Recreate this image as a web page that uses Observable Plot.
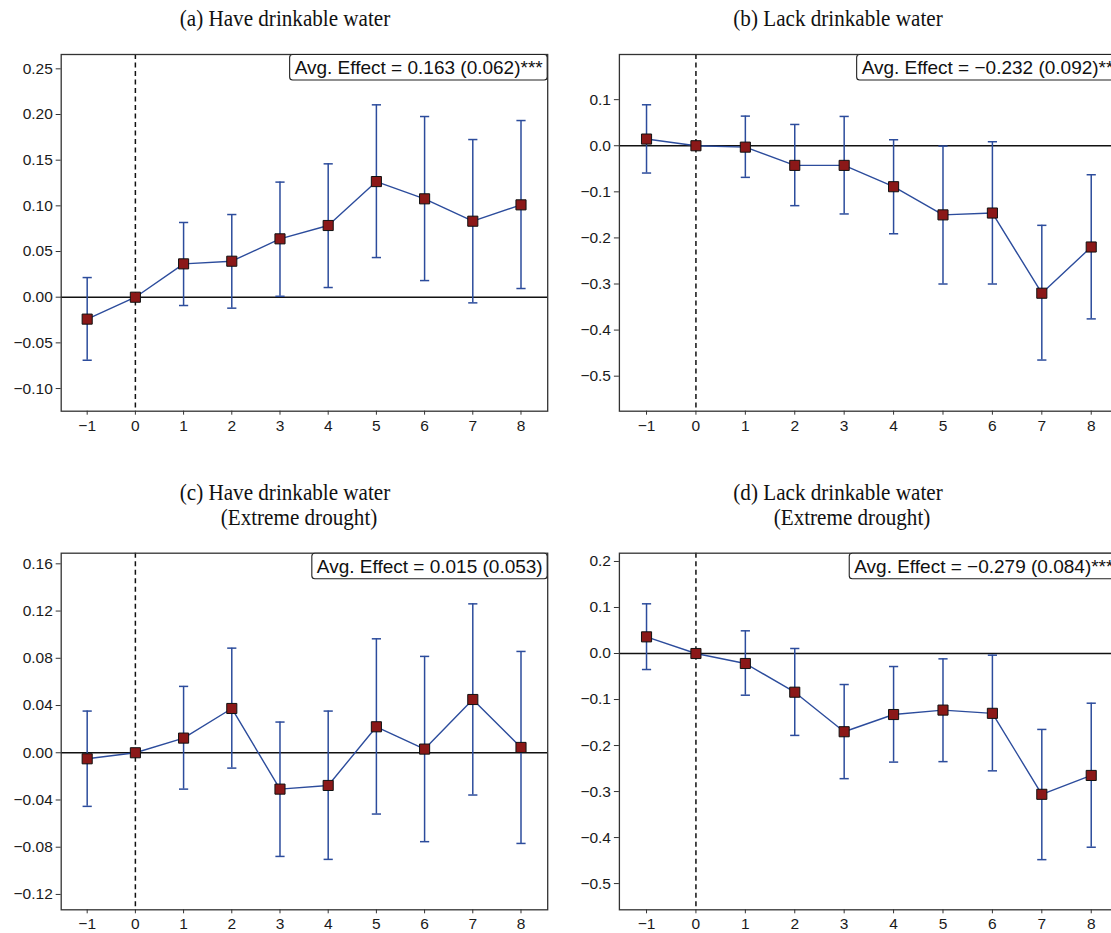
<!DOCTYPE html>
<html>
<head>
<meta charset="utf-8">
<script src="https://cdn.jsdelivr.net/npm/d3@7"></script>
<script src="https://cdn.jsdelivr.net/npm/@observablehq/plot@0.6"></script>
<style>
  html, body { margin: 0; padding: 0; background: #fff; overflow: hidden; }
  #wrap { position: relative; width: 1111px; height: 933px; overflow: hidden; background: #fff; }
  .ttl { position: absolute; font-family: "Liberation Serif", "Times New Roman", serif; font-size: 24px; color: #111; text-align: center; white-space: nowrap; transform: translateX(-50%) scaleX(0.88); line-height: 1; }
  .pnl { position: absolute; }
</style>
</head>
<body>
<div id="wrap"></div>
<script>
// ---- data ----
const periods = [-1, 0, 1, 2, 3, 4, 5, 6, 7, 8];

const aEst = [-0.024, 0, 0.0365, 0.0394, 0.0639, 0.0785, 0.1266, 0.1077, 0.0832, 0.1011];
const aLo  = [-0.069, null, -0.0091, -0.012, 0.001, 0.0106, 0.0434, 0.0182, -0.0062, 0.0095];
const aHi  = [0.0215, null, 0.0818, 0.0905, 0.126, 0.146, 0.2106, 0.1978, 0.1726, 0.1934];

const bEst = [0.0145, 0, -0.003, -0.0426, -0.0426, -0.0889, -0.150, -0.146, -0.320, -0.2197];
const bLo  = [-0.0592, null, -0.0686, -0.130, -0.148, -0.191, -0.300, -0.300, -0.465, -0.3757];
const bHi  = [0.0889, null, 0.0643, 0.0462, 0.0636, 0.013, -0.0007, 0.0087, -0.1727, -0.0629];

const cEst = [-0.0051, 0, 0.0124, 0.0375, -0.0308, -0.0277, 0.022, 0.0031, 0.0451, 0.0045];
const cLo  = [-0.0454, null, -0.0308, -0.013, -0.0878, -0.0903, -0.0519, -0.0753, -0.0358, -0.0768];
const cHi  = [0.0353, null, 0.0562, 0.0886, 0.026, 0.0353, 0.0965, 0.0816, 0.1261, 0.0858];

const dEst = [0.0362, 0, -0.0217, -0.0841, -0.170, -0.1326, -0.123, -0.130, -0.306, -0.265];
const dLo  = [-0.0348, null, -0.0906, -0.178, -0.272, -0.236, -0.235, -0.255, -0.448, -0.421];
const dHi  = [0.108, null, 0.0493, 0.0109, -0.0674, -0.0283, -0.0116, -0.0036, -0.165, -0.108];

const titles = [
  ["(a) Have drinkable water"],
  ["(b) Lack drinkable water"],
  ["(c) Have drinkable water", "(Extreme drought)"],
  ["(d) Lack drinkable water", "(Extreme drought)"]
];
const avgLabels = [
  "Avg. Effect = 0.163 (0.062)***",
  "Avg. Effect = \u22120.232 (0.092)**",
  "Avg. Effect = 0.015 (0.053)",
  "Avg. Effect = \u22120.279 (0.084)***"
];
const yTicksA = [-0.10, -0.05, 0.00, 0.05, 0.10, 0.15, 0.20, 0.25];
const yTicksB = [-0.5, -0.4, -0.3, -0.2, -0.1, 0.0, 0.1];
const yTicksC = [-0.12, -0.08, -0.04, 0.00, 0.04, 0.08, 0.12, 0.16];
const yTicksD = [-0.5, -0.4, -0.3, -0.2, -0.1, 0.0, 0.1, 0.2];

// ---- styling ----
const BLUE = "#2c4c9c";
const RED = "#8b1818";
const SANS = "'Liberation Sans', Arial, sans-serif";
const capSymbol = {
  draw(context, size) {
    const r = Math.sqrt(size / Math.PI);
    context.moveTo(-r, 0);
    context.lineTo(r, 0);
  }
};

function rows(est, lo, hi) {
  return periods.map((t, i) => ({t, est: est[i], lo: lo[i], hi: hi[i]}));
}

const panels = [
  {data: rows(aEst, aLo, aHi), yDomain: [-0.1248, 0.2657], yTicks: yTicksA, fmt: ".2f",
   xDomain: [-1.539, 8.554], left: 0, top: 40, width: 560, height: 400, mL: 60.7, mR: 12.8, mT: 14, mB: 29.3},
  {data: rows(bEst, bLo, bHi), yDomain: [-0.576, 0.198], yTicks: yTicksB, fmt: ".1f",
   xDomain: [-1.549, 8.55], left: 560, top: 40, width: 580, height: 400, mL: 58.9, mR: 22.1, mT: 14, mB: 29.3},
  {data: rows(cEst, cLo, cHi), yDomain: [-0.133, 0.169], yTicks: yTicksC, fmt: ".2f",
   xDomain: [-1.539, 8.554], left: 0, top: 540, width: 560, height: 393, mL: 60.7, mR: 12.8, mT: 12.7, mB: 23.7},
  {data: rows(dEst, dLo, dHi), yDomain: [-0.557, 0.218], yTicks: yTicksD, fmt: ".1f",
   xDomain: [-1.549, 8.55], left: 560, top: 540, width: 580, height: 393, mL: 58.9, mR: 22.1, mT: 12.7, mB: 23.7}
];

const titlePos = [
  {x: 285, y: 6}, {x: 838, y: 6}, {x: 285, y: 480}, {x: 838, y: 480}
];

const wrap = document.getElementById("wrap");

panels.forEach((p, k) => {
  // title
  titles[k].forEach((line, j) => {
    const d = document.createElement("div");
    d.className = "ttl";
    d.textContent = line;
    d.style.left = (titlePos[k].x + (j === 1 ? 14 : 0)) + "px";
    d.style.top = (titlePos[k].y + j * 25) + "px";
    wrap.appendChild(d);
  });

  const bars = p.data.filter(d => d.lo != null);
  const yFmt = d3.format(p.fmt);
  const xFmt = d3.format("d");
  const chart = Plot.plot({
    width: p.width,
    height: p.height,
    marginLeft: p.mL,
    marginRight: p.mR,
    marginTop: p.mT,
    marginBottom: p.mB,
    style: {fontFamily: SANS, color: "#1a1a1a", background: "transparent", overflow: "visible"},
    x: {domain: p.xDomain},
    y: {domain: p.yDomain},
    marks: [
      // tick lines
      Plot.axisX({ticks: periods, tickFormat: () => "", tickSize: 4, label: null, stroke: "#333"}),
      Plot.axisY({ticks: p.yTicks, tickFormat: () => "", tickSize: 5, label: null, stroke: "#333"}),
      // tick labels
      Plot.text(periods, {x: d => d, frameAnchor: "bottom", lineAnchor: "top", dy: 8.5, text: d => xFmt(d),
        fontSize: 15.5, fontFamily: SANS, fill: "#1a1a1a"}),
      Plot.text(p.yTicks, {y: d => d, frameAnchor: "left", textAnchor: "end", dx: -8.4, text: d => yFmt(d),
        fontSize: 15.5, fontFamily: SANS, fill: "#1a1a1a"}),
      Plot.ruleY([0], {stroke: "#111", strokeWidth: 1.6}),
      Plot.ruleX([0], {stroke: "#111", strokeWidth: 1.5, strokeDasharray: "5,3.5"}),
      Plot.ruleX(bars, {x: "t", y1: "lo", y2: "hi", stroke: BLUE, strokeWidth: 1.5}),
      Plot.dot(bars, {x: "t", y: "lo", symbol: capSymbol, r: 4.6, stroke: BLUE, strokeWidth: 1.5, fill: "none"}),
      Plot.dot(bars, {x: "t", y: "hi", symbol: capSymbol, r: 4.6, stroke: BLUE, strokeWidth: 1.5, fill: "none"}),
      Plot.line(p.data, {x: "t", y: "est", stroke: BLUE, strokeWidth: 1.4}),
      Plot.dot(p.data, {x: "t", y: "est", symbol: "square", r: 5.7, fill: RED, stroke: "#111", strokeWidth: 1}),
      Plot.frame({stroke: "#333", strokeWidth: 1.3}),
      Plot.text([avgLabels[k]], {frameAnchor: "top-right", textAnchor: "end", lineAnchor: "top", dx: -5, dy: 6,
        fontSize: 19, fontFamily: SANS, fill: "#111"})
    ]
  });
  chart.classList.add("pnl");
  chart.style.left = p.left + "px";
  chart.style.top = p.top + "px";
  wrap.appendChild(chart);

  // draw rounded annotation box behind the average-effect text
  const svgRect = chart.getBoundingClientRect();
  const txt = Array.from(chart.querySelectorAll("text")).find(t => t.textContent.startsWith("Avg."));
  if (txt) {
    const tr = txt.getBoundingClientRect();
    const x0 = tr.left - svgRect.left - 5;
    const frameRight = p.width - p.mR;
    const rect = document.createElementNS("http://www.w3.org/2000/svg", "rect");
    rect.setAttribute("x", x0);
    rect.setAttribute("y", p.mT + 0.5);
    rect.setAttribute("width", frameRight - x0);
    rect.setAttribute("height", 25.5);
    rect.setAttribute("rx", 3);
    rect.setAttribute("fill", "#fff");
    rect.setAttribute("stroke", "#222");
    rect.setAttribute("stroke-width", 1.1);
    const grp = txt.closest("g");
    grp.parentNode.insertBefore(rect, grp);
  }
});
</script>
</body>
</html>
